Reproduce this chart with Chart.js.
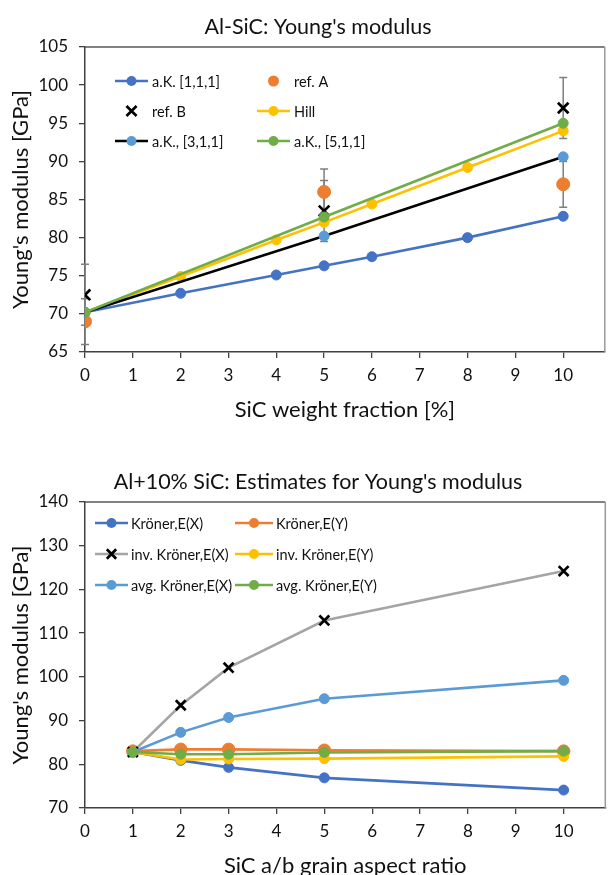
<!DOCTYPE html>
<html><head><meta charset="utf-8">
<script src="https://cdn.jsdelivr.net/npm/chart.js@4/dist/chart.umd.min.js"></script>
<style>
html,body{margin:0;padding:0;background:#fff;overflow:hidden;}
#w1{position:absolute;left:0;top:0;width:615px;height:440px;}
#w2{position:absolute;left:0;top:440px;width:615px;height:455px;}
</style></head><body>
<div id="w1"><canvas id="c1"></canvas></div>
<div id="w2"><canvas id="c2"></canvas></div>
<script>
// ---------- Top chart data ----------
const wtFractionModel = [0, 2, 4, 5, 6, 8, 10];
const wtFractionRef = [0, 5, 10];
const akIso = [70.2, 72.7, 75.1, 76.3, 77.5, 80.0, 82.8];
const hill = [70.2, 74.9, 79.7, 82.0, 84.4, 89.2, 94.0];
const refA = [69.0, 86.0, 87.0];
const refAErr = [3, 3, 3];
const refB = [72.5, 83.5, 97.0];
const refBErr = [4, 4, 4];
const ak311 = [70.2, 80.2, 90.6];
const ak511 = [70.2, 82.7, 95.0];
const weightTicks = [0, 1, 2, 3, 4, 5, 6, 7, 8, 9, 10];
const topLabels = ['a.K. [1,1,1]', 'ref. A', 'ref. B', 'Hill', 'a.K., [3,1,1]', 'a.K., [5,1,1]'];

// ---------- Bottom chart data ----------
const aspectRatio = [1, 2, 3, 5, 10];
const kronerX = [82.8, 80.9, 79.3, 76.9, 74.1];
const kronerY = [83.0, 83.4, 83.4, 83.2, 83.0];
const invKronerX = [82.8, 93.5, 102.1, 112.9, 124.2];
const invKronerY = [82.8, 81.1, 81.2, 81.3, 81.8];
const avgKronerX = [82.8, 87.3, 90.7, 95.0, 99.2];
const avgKronerY = [82.8, 82.3, 82.3, 82.7, 83.0];
const aspectTicks = [0, 1, 2, 3, 4, 5, 6, 7, 8, 9, 10];
const bottomLabels = ['Kröner,E(X)', 'Kröner,E(Y)', 'inv. Kröner,E(X)', 'inv. Kröner,E(Y)', 'avg. Kröner,E(X)', 'avg. Kröner,E(Y)'];

const FONT = 'Lato, "Open Sans", sans-serif';
const C = {blue:'#4472C4', orange:'#ED7D31', gray:'#A5A5A5', yellow:'#FFC000', lblue:'#5B9BD5', green:'#70AD47', black:'#000000'};

function pts(xs, ys){ return xs.map((x,i)=>({x:x, y:ys[i]})); }

function series(label, xs, ys, lineColor, markerColor, opt){
  opt = opt || {};
  return Object.assign({
    label: label,
    data: pts(xs, ys),
    borderColor: lineColor,
    backgroundColor: markerColor,
    pointBackgroundColor: markerColor,
    pointBorderColor: markerColor,
    pointBorderWidth: 1,
    pointRadius: 5,
    pointStyle: 'circle',
    borderWidth: 2.6,
    showLine: true,
    tension: 0
  }, opt);
}

// Error bar plugin (values through the chart's own scales)
const errorBarPlugin = {
  id: 'errBars',
  beforeDatasetsDraw(chart){
    const xs = chart.scales.x, ys = chart.scales.y, ctx = chart.ctx;
    chart.data.datasets.forEach(ds=>{
      if(!ds.errors) return;
      ctx.save();
      ctx.strokeStyle = '#7F7F7F';
      ctx.lineWidth = 1.5;
      ds.data.forEach((p,i)=>{
        const e = ds.errors[i];
        const px = xs.getPixelForValue(p.x);
        const y1 = ys.getPixelForValue(p.y - e), y2 = ys.getPixelForValue(p.y + e);
        ctx.beginPath();
        ctx.moveTo(px, y1); ctx.lineTo(px, y2);
        ctx.moveTo(px-4, y1); ctx.lineTo(px+4, y1);
        ctx.moveTo(px-4, y2); ctx.lineTo(px+4, y2);
        ctx.stroke();
      });
      ctx.restore();
    });
  }
};

function drawMarker(ctx, ds, x, y){
  const r = ds.legendRadius || ds.pointRadius;
  ctx.save();
  if(ds.pointStyle === 'crossRot'){
    ctx.strokeStyle = ds.pointBorderColor;
    ctx.lineWidth = ds.pointBorderWidth;
    const d = r*0.72;
    ctx.beginPath();
    ctx.moveTo(x-d,y-d); ctx.lineTo(x+d,y+d);
    ctx.moveTo(x-d,y+d); ctx.lineTo(x+d,y-d);
    ctx.stroke();
  } else {
    ctx.fillStyle = ds.pointBackgroundColor;
    ctx.beginPath(); ctx.arc(x,y,r,0,Math.PI*2); ctx.fill();
  }
  ctx.restore();
}

const legendPlugin = {
  id: 'xlLegend',
  afterDraw(chart, args, o){
    if(!o || !o.colX) return;
    const ctx = chart.ctx, a = chart.chartArea;
    ctx.save();
    ctx.font = o.fontSize + 'px ' + FONT;
    ctx.textBaseline = 'middle';
    chart.data.datasets.forEach((ds,i)=>{
      const col = i % 2, row = Math.floor(i/2);
      const x0 = a.left + o.colX[col];
      const y = a.top + o.rowY + row*o.rowGap;
      const len = o.lineLen[col];
      if(ds.showLine !== false){
        ctx.strokeStyle = ds.borderColor;
        ctx.lineWidth = ds.borderWidth;
        ctx.beginPath(); ctx.moveTo(x0,y); ctx.lineTo(x0+len,y); ctx.stroke();
      }
      drawMarker(ctx, ds, x0+len/2, y);
      ctx.fillStyle = '#111';
      ctx.fillText(ds.label, x0+len+o.textGap, y+1);
    });
    ctx.restore();
  }
};

const frameTitlePlugin = {
  id: 'frameTitle',
  afterDraw(chart, args, o){
    const ctx = chart.ctx, a = chart.chartArea;
    ctx.save();
    ctx.strokeStyle = '#595959';
    ctx.lineWidth = 1.5;
    ctx.beginPath();
    ctx.moveTo(a.left, a.top); ctx.lineTo(a.right, a.top);
    ctx.stroke();
    ctx.strokeStyle = '#9a9a9a';
    ctx.beginPath();
    ctx.moveTo(a.right, a.top); ctx.lineTo(a.right, a.bottom);
    ctx.stroke();
    ctx.fillStyle = '#111';
    ctx.font = o.fontSize + 'px ' + FONT;
    ctx.textAlign = 'center';
    ctx.textBaseline = 'middle';
    ctx.fillText(o.text, o.cx, a.top + o.dy);
    ctx.restore();
  }
};

function axes(yMin, yMax, yStep, xTickVals, canvasH, bottom, xTitle, xTitlePad){
  return {
    x: {
      type: 'linear', min: 0, max: 10.87,
      afterBuildTicks: s => { s.ticks = xTickVals.map(v=>({value:v})); },
      afterFit: s => { s.height = canvasH - bottom; },
      ticks: {color:'#111', font:{family:FONT, size:17}, padding: 7, maxRotation:0, autoSkip:false},
      grid: {display:true, drawOnChartArea:false, drawTicks:true, tickLength:6, color:'#404040', lineWidth:1.3},
      border: {display:true, color:'#404040', width:1.5},
      title: {display:true, text:xTitle, color:'#111', font:{family:FONT, size:22}, padding:{top:xTitlePad, bottom:xTitlePad}}
    },
    y: {
      type: 'linear', min: yMin, max: yMax,
      afterFit: s => { s.width = 85; },
      ticks: {stepSize: yStep, color:'#111', font:{family:FONT, size:17}, padding: 11},
      grid: {display:true, drawOnChartArea:false, drawTicks:true, tickLength:6, color:'#404040', lineWidth:1.3},
      border: {display:true, color:'#404040', width:1.5},
      title: {display:true, text:"Young's modulus [GPa]", color:'#111', font:{family:FONT, size:22}, padding:{top:8, bottom:8}}
    }
  };
}

// ---------- Top chart ----------
const topDatasets = [
  series(topLabels[0], wtFractionModel, akIso, C.blue, C.blue, {order:0}),
  series(topLabels[1], wtFractionRef, refA, C.orange, C.orange, {showLine:false, pointRadius:6.5, legendRadius:5.5, errors: refAErr, order:-1}),
  series(topLabels[2], wtFractionRef, refB, C.black, C.black, {showLine:false, pointStyle:'crossRot', pointRadius:7.5, pointBorderWidth:2.7, legendRadius:7, errors: refBErr, order:-2}),
  series(topLabels[3], wtFractionModel, hill, C.yellow, C.yellow, {order:-3}),
  series(topLabels[4], wtFractionRef, ak311, C.black, C.lblue, {order:-4}),
  series(topLabels[5], wtFractionRef, ak511, C.green, C.green, {order:-5})
];

new Chart(document.getElementById('c1'), {
  type: 'scatter',
  data: {datasets: topDatasets},
  options: {
    responsive: true, maintainAspectRatio: false, animation: false,
    layout: {padding: {top: 47, left: 0, right: 1, bottom: 0}},
    scales: axes(65, 105, 5, weightTicks, 440, 352, 'SiC weight fraction [%]', 17),
    plugins: {
      legend: {display:false}, tooltip: {enabled:false},
      xlLegend: {colX:[30,172], rowY:34, rowGap:30, lineLen:[33,33], textGap:4, fontSize:14.5},
      frameTitle: {text:'Al-SiC: Young\'s modulus', fontSize:21.5, cx:318, dy:-20}
    }
  },
  plugins: [errorBarPlugin, legendPlugin, frameTitlePlugin]
});

// ---------- Bottom chart ----------
const bottomDatasets = [
  series(bottomLabels[0], aspectRatio, kronerX, C.blue, C.blue, {order:0}),
  series(bottomLabels[1], aspectRatio, kronerY, C.orange, C.orange, {pointRadius:6.3, legendRadius:5, order:-1}),
  series(bottomLabels[2], aspectRatio, invKronerX, C.gray, C.black, {pointStyle:'crossRot', pointRadius:7, pointBorderWidth:2.7, legendRadius:6.5, order:-2}),
  series(bottomLabels[3], aspectRatio, invKronerY, C.yellow, C.yellow, {order:-3}),
  series(bottomLabels[4], aspectRatio, avgKronerX, C.lblue, C.lblue, {order:-4}),
  series(bottomLabels[5], aspectRatio, avgKronerY, C.green, C.green, {order:-5})
];

new Chart(document.getElementById('c2'), {
  type: 'scatter',
  data: {datasets: bottomDatasets},
  options: {
    responsive: true, maintainAspectRatio: false, animation: false,
    layout: {padding: {top: 62, left: 0, right: 1, bottom: 0}},
    scales: axes(70, 140, 10, aspectTicks, 455, 368, 'SiC a/b grain aspect ratio', 16),
    plugins: {
      legend: {display:false}, tooltip: {enabled:false},
      xlLegend: {colX:[10,150], rowY:21, rowGap:31, lineLen:[33,38], textGap:3, fontSize:14.5},
      frameTitle: {text:'Al+10% SiC: Estimates for Young\'s modulus', fontSize:21.5, cx:318, dy:-20}
    }
  },
  plugins: [legendPlugin, frameTitlePlugin]
});
</script>
</body></html>
